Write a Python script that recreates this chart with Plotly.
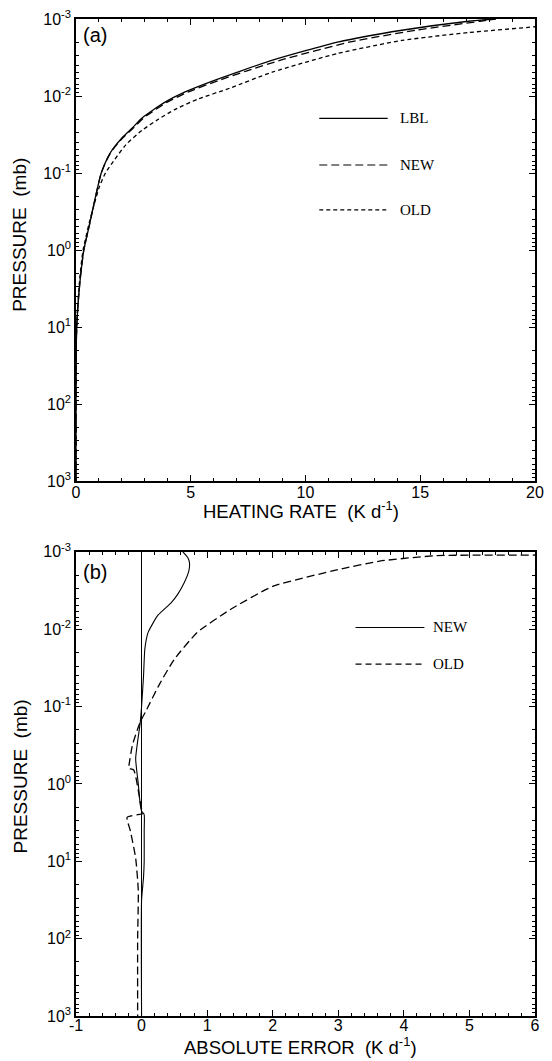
import plotly.graph_objects as go

# ---------------- Panel (a): heating rate profiles ----------------
p_a = [1000, 100, 20, 10, 5, 2.6, 1.5, 1.0, 0.45, 0.23, 0.1, 0.063, 0.049,
       0.035, 0.026, 0.019, 0.012, 0.0089, 0.0063, 0.0047, 0.0034, 0.002, 0.0014,
       0.00107, 0.001]
hr_lbl = [0, 0, 0.01, 0.03, 0.09, 0.17, 0.26, 0.34, 0.60, 0.81, 1.10, 1.38, 1.60,
          2.0, 2.45, 2.90, 3.88, 4.73, 6.0, 7.2, 8.6, 11.4, 14.2, 17.1, 18.2]
hr_new = [0, 0, 0.01, 0.03, 0.09, 0.17, 0.26, 0.34, 0.60, 0.81, 1.10, 1.39, 1.62,
          2.03, 2.50, 2.97, 3.98, 4.87, 6.2, 7.45, 8.95, 11.9, 14.8, 17.6, 18.3]
p_a_old = [1000, 100, 20, 10, 5, 2.6, 1.5, 1.0, 0.45, 0.25, 0.15, 0.1, 0.071, 0.043,
           0.028, 0.020, 0.015, 0.011, 0.0079, 0.0049, 0.0028, 0.0019, 0.0015,
           0.00126, 0.001]
hr_old = [0, 0, 0.01, 0.03, 0.08, 0.15, 0.23, 0.31, 0.57, 0.80, 1.02, 1.28, 1.62, 2.17,
          2.87, 3.59, 4.3, 5.3, 6.7, 8.55, 11.4, 14.2, 17.1, 20.0, 23.0]

# ---------------- Panel (b): absolute error profiles ----------------
p_b_new = [0.001, 0.00117, 0.00138, 0.00178, 0.00251, 0.00355, 0.00457, 0.0066, 0.011,
           0.018, 0.04, 0.1, 0.16, 0.47, 1.0, 1.86, 2.24, 2.5, 4.0, 10, 16, 32, 1000]
err_new = [0.63, 0.70, 0.73, 0.72, 0.65, 0.55, 0.45, 0.25, 0.10, 0.05, 0.03, 0.0, -0.02,
           -0.09, -0.05, -0.02, 0.0, 0.04, 0.04, 0.04, 0.03, 0.0, 0.0]
p_b_old = [0.001, 0.0011, 0.00112, 0.00132, 0.0017, 0.0028, 0.0056, 0.011, 0.0245, 0.052,
           0.117, 0.158, 0.316, 0.56, 0.63, 0.66, 2.09, 2.4, 2.7, 4.07, 9.1, 24, 100, 1000]
err_old = [7.0, 6.0, 4.5, 3.63, 3.0, 2.0, 1.35, 0.85, 0.5, 0.27, 0.06, -0.02, -0.14, -0.19,
           -0.2, -0.12, 0.0, 0.03, -0.22, -0.17, -0.09, -0.05, -0.06, -0.06]

# ---------------- Axis ticks ----------------
y_major = [1e-3, 1e-2, 1e-1, 1e0, 1e1, 1e2, 1e3]
y_major_text = ["10<sup>-3</sup>", "10<sup>-2</sup>", "10<sup>-1</sup>", "10<sup>0</sup>",
                "10<sup>1</sup>", "10<sup>2</sup>", "10<sup>3</sup>"]
y_minor = [m * 10.0 ** e for e in range(-3, 3) for m in range(2, 10)]
xa_major = [0, 5, 10, 15, 20]
xa_minor = list(range(0, 21))
xb_major = [-1, 0, 1, 2, 3, 4, 5, 6]
xb_minor = [round(-1 + 0.2 * i, 2) for i in range(36)]

SANS = "Liberation Sans, Arial, sans-serif"
SERIF = "Liberation Serif, Times New Roman, serif"
LW = 1.3

fig = go.Figure()
fig.add_trace(go.Scatter(x=hr_lbl, y=p_a, mode="lines", line=dict(color="black", width=LW, shape="spline", smoothing=0.6),
                         xaxis="x", yaxis="y", name="LBL"))
fig.add_trace(go.Scatter(x=hr_new, y=p_a, mode="lines", line=dict(color="black", width=LW, dash="8px,4px", shape="spline", smoothing=0.6),
                         xaxis="x", yaxis="y", name="NEW"))
fig.add_trace(go.Scatter(x=hr_old, y=p_a_old, mode="lines", line=dict(color="black", width=LW, dash="4px,3px", shape="spline", smoothing=0.6),
                         xaxis="x", yaxis="y", name="OLD"))
fig.add_trace(go.Scatter(x=err_new, y=p_b_new, mode="lines", line=dict(color="black", width=1.1, shape="spline", smoothing=0.5),
                         xaxis="x2", yaxis="y2", name="NEW"))
fig.add_trace(go.Scatter(x=err_old, y=p_b_old, mode="lines", line=dict(color="black", width=LW, dash="8px,4px", shape="spline", smoothing=0.5),
                         xaxis="x2", yaxis="y2", name="OLD"))

axis_common = dict(showline=True, linecolor="black", linewidth=1.5, mirror="ticks",
                   ticks="inside", ticklen=6, tickwidth=1, tickcolor="black",
                   showgrid=False, tickfont=dict(family=SANS, size=16, color="black"))
minor_common = dict(ticks="inside", ticklen=3, tickwidth=1, tickcolor="black", showgrid=False)

fig.update_layout(
    width=552, height=1061,
    margin=dict(l=76, r=8, t=13, b=45),
    paper_bgcolor="white", plot_bgcolor="white",
    showlegend=False,
    xaxis=dict(domain=[0, 1], anchor="y", range=[0, 20], tickmode="array", tickvals=xa_major,
               zeroline=False, ticklabelstandoff=-4,
               minor=dict(tickmode="array", tickvals=xa_minor, **minor_common), **axis_common),
    yaxis=dict(domain=[0.5364, 1], anchor="x", type="log", range=[3, -3], tickmode="array",
               tickvals=y_major, ticktext=y_major_text, zeroline=False,
               minor=dict(tickmode="array", tickvals=y_minor, **minor_common), **axis_common),
    xaxis2=dict(domain=[0, 1], anchor="y2", range=[-1, 6], tickmode="array", tickvals=xb_major,
                ticktext=[str(v) for v in xb_major], ticklabelstandoff=-6,
                zeroline=True, zerolinecolor="black", zerolinewidth=1,
                minor=dict(tickmode="array", tickvals=xb_minor, **minor_common), **axis_common),
    yaxis2=dict(domain=[0, 0.4656], anchor="x2", type="log", range=[3, -3], tickmode="array",
                tickvals=y_major, ticktext=y_major_text, zeroline=False,
                minor=dict(tickmode="array", tickvals=y_minor, **minor_common), **axis_common),
)

# Legends (drawn as sample lines + labels)
legend_a = [("LBL", "solid", 0.785), ("NEW", "8px,4px", 0.684), ("OLD", "4px,3px", 0.587)]
for label, dash, yy in legend_a:
    fig.add_shape(type="line", xref="x domain", yref="y domain", x0=0.530, x1=0.679, y0=yy, y1=yy,
                  line=dict(color="black", width=1.1, dash=dash))
    fig.add_annotation(xref="x domain", yref="y domain", x=0.701, y=yy, text=label, showarrow=False,
                       xanchor="left", yanchor="middle", font=dict(family=SERIF, size=15, color="black"))
legend_b = [("NEW", "solid", 0.837), ("OLD", "6px,4px", 0.758)]
for label, dash, yy in legend_b:
    fig.add_shape(type="line", xref="x2 domain", yref="y2 domain", x0=0.609, x1=0.759, y0=yy, y1=yy,
                  line=dict(color="black", width=1.1, dash=dash))
    fig.add_annotation(xref="x2 domain", yref="y2 domain", x=0.774, y=yy, text=label, showarrow=False,
                       xanchor="left", yanchor="middle", font=dict(family=SERIF, size=15, color="black"))

# Panel labels
fig.add_annotation(xref="x domain", yref="y domain", x=0.010, y=0.966, text="(a)", showarrow=False,
                   xanchor="left", yanchor="middle", font=dict(family=SANS, size=20, color="black"))
fig.add_annotation(xref="x2 domain", yref="y2 domain", x=0.010, y=0.957, text="(b)", showarrow=False,
                   xanchor="left", yanchor="middle", font=dict(family=SANS, size=20, color="black"))

# Axis titles
fig.add_annotation(xref="x domain", yref="y domain", x=0.49, y=-0.062, text="HEATING RATE  (K d<sup>-1</sup>)",
                   showarrow=False, xanchor="center", yanchor="middle", font=dict(family=SANS, size=18.5, color="black"))
fig.add_annotation(xref="x2 domain", yref="y2 domain", x=0.49, y=-0.064, text="ABSOLUTE ERROR  (K d<sup>-1</sup>)",
                   showarrow=False, xanchor="center", yanchor="middle", font=dict(family=SANS, size=18.5, color="black"))
for yref, yy in (("y domain", 0.533), ("y2 domain", 0.516)):
    fig.add_annotation(xref="paper", yref=yref, x=-0.122, y=yy, text="PRESSURE  (mb)", textangle=-90,
                       showarrow=False, xanchor="center", yanchor="middle", font=dict(family=SANS, size=19, color="black"))

fig.write_html("out.html")
